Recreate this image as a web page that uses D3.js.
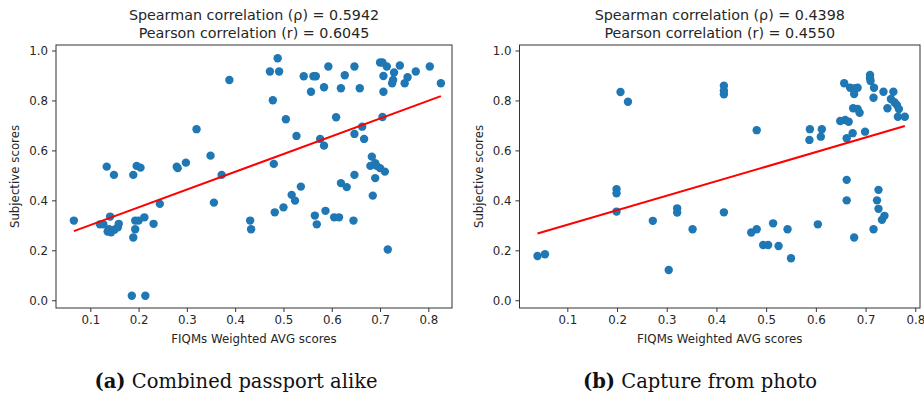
<!DOCTYPE html>
<html>
<head>
<meta charset="utf-8">
<script src="https://cdn.jsdelivr.net/npm/d3@7"></script>
<style>
  html, body { margin: 0; padding: 0; background: #fff; }
  svg { display: block; }
  text { font-family: "DejaVu Sans", sans-serif; fill: #262626; }
</style>
</head>
<body>
<svg id="chart" width="924" height="398"></svg>
<script>
// ---- Data: (a) Combined passport alike ----
const passportX = [0.066,0.120,0.127,0.134,0.149,0.141,0.136,0.143,0.150,0.157,0.139,0.159,0.189,0.196,0.204,0.193,0.200,0.212,0.193,0.189,
  0.231,0.244,0.279,0.281,0.298,0.320,0.349,0.356,0.372,0.388,0.186,0.214,0.431,0.433,0.472,0.491,0.488,0.478,0.480,0.482,
  0.500,0.505,0.517,0.524,0.527,0.536,0.542,0.562,0.567,0.557,0.565,0.569,0.576,0.584,0.584,0.587,0.593,0.605,0.615,0.609,
  0.619,0.619,0.627,0.631,0.645,0.647,0.647,0.647,0.658,0.663,0.667,0.683,0.680,0.690,0.693,0.700,0.710,0.690,0.685,0.716,
  0.700,0.705,0.714,0.707,0.707,0.705,0.729,0.727,0.725,0.741,0.757,0.751,0.774,0.803,0.826];
const passportY = [0.319,0.304,0.304,0.535,0.502,0.335,0.275,0.272,0.282,0.292,0.284,0.306,0.502,0.538,0.531,0.319,0.319,0.332,0.284,0.251,
  0.306,0.386,0.535,0.529,0.551,0.685,0.579,0.391,0.502,0.882,0.018,0.018,0.319,0.284,0.916,0.916,0.969,0.801,0.546,0.352,
  0.372,0.725,0.422,0.399,0.658,0.455,0.897,0.897,0.897,0.835,0.339,0.304,0.646,0.619,0.853,0.358,0.936,0.332,0.332,0.733,
  0.849,0.469,0.901,0.453,0.319,0.502,0.666,0.936,0.849,0.695,0.646,0.575,0.538,0.549,0.538,0.529,0.515,0.489,0.419,0.203,
  0.952,0.952,0.936,0.898,0.835,0.734,0.912,0.882,0.869,0.940,0.893,0.869,0.916,0.936,0.869];

// ---- Data: (b) Capture from photo ----
const photoX = [0.040,0.055,0.199,0.199,0.199,0.207,0.222,0.272,0.304,0.321,0.321,0.352,0.415,0.415,0.415,0.415,0.470,0.481,0.481,0.494,
  0.504,0.514,0.525,0.543,0.550,0.587,0.588,0.604,0.610,0.612,0.649,0.659,0.666,0.657,0.662,0.662,0.662,0.669,0.679,0.684,
  0.677,0.674,0.675,0.684,0.688,0.677,0.699,0.709,0.709,0.710,0.717,0.716,0.716,0.726,0.723,0.726,0.733,0.738,0.736,0.756,
  0.751,0.758,0.763,0.744,0.767,0.765,0.779];
const photoY = [0.177,0.184,0.445,0.428,0.355,0.834,0.795,0.318,0.121,0.368,0.351,0.284,0.859,0.839,0.825,0.352,0.271,0.284,0.681,0.221,
  0.221,0.308,0.217,0.284,0.168,0.642,0.685,0.304,0.655,0.685,0.718,0.722,0.715,0.869,0.649,0.482,0.400,0.851,0.849,0.851,
  0.826,0.669,0.769,0.766,0.751,0.251,0.675,0.902,0.889,0.878,0.851,0.811,0.284,0.442,0.400,0.366,0.322,0.338,0.835,0.835,
  0.806,0.793,0.782,0.769,0.766,0.735,0.735];

// ---- Labels / ticks ----
const xTicks = [0.1,0.2,0.3,0.4,0.5,0.6,0.7,0.8];
const yTicks = [0.0,0.2,0.4,0.6,0.8,1.0];
const titlesA = ["Spearman correlation (\u03C1) = 0.5942", "Pearson correlation (r) = 0.6045"];
const titlesB = ["Spearman correlation (\u03C1) = 0.4398", "Pearson correlation (r) = 0.4550"];
const xLabel = "FIQMs Weighted AVG scores";
const yLabel = "Subjective scores";
const captionTagA = "(a)", captionTextA = " Combined passport alike";
const captionTagB = "(b)", captionTextB = " Capture from photo";

const svg = d3.select("#chart");

function linfit(xs, ys) {
  const mx = d3.mean(xs), my = d3.mean(ys);
  let sxy = 0, sxx = 0;
  xs.forEach((x, i) => { sxy += (x - mx) * (ys[i] - my); sxx += (x - mx) * (x - mx); });
  const b = sxy / sxx;
  return { a: my - b * mx, b };
}

function panel(cfg) {
  const { xs, ys, box, xDomain, yDomain, titles, caption } = cfg;
  const g = svg.append("g");
  const x = d3.scaleLinear().domain(xDomain).range([box.x0, box.x1]);
  const y = d3.scaleLinear().domain(yDomain).range([box.y1, box.y0]);

  // points
  g.append("g").selectAll("circle").data(xs.map((v, i) => [v, ys[i]])).join("circle")
    .attr("cx", d => x(d[0])).attr("cy", d => y(d[1])).attr("r", 4.2)
    .attr("fill", "#1f77b4");

  // regression line
  const f = linfit(xs, ys);
  const ex = d3.extent(xs);
  g.append("line")
    .attr("x1", x(ex[0])).attr("y1", y(f.a + f.b * ex[0]))
    .attr("x2", x(ex[1])).attr("y2", y(f.a + f.b * ex[1]))
    .attr("stroke", "#ff0000").attr("stroke-width", 2);

  // axes
  const xAxis = d3.axisBottom(x).tickValues(xTicks).tickFormat(d3.format(".1f")).tickSize(4).tickPadding(4);
  const yAxis = d3.axisLeft(y).tickValues(yTicks).tickFormat(d3.format(".1f")).tickSize(4).tickPadding(4);
  const gx = g.append("g").attr("transform", `translate(0,${box.y1})`).call(xAxis);
  const gy = g.append("g").attr("transform", `translate(${box.x0},0)`).call(yAxis);
  [gx, gy].forEach(a => {
    a.select(".domain").remove();
    a.selectAll(".tick line").attr("stroke", "#333");
    a.selectAll(".tick text").attr("font-size", 11.8).attr("font-family", "DejaVu Sans").attr("fill", "#262626");
  });

  // spines
  g.append("rect").attr("x", box.x0).attr("y", box.y0)
    .attr("width", box.x1 - box.x0).attr("height", box.y1 - box.y0)
    .attr("fill", "none").attr("stroke", "#333").attr("stroke-width", 1);

  const cx = (box.x0 + box.x1) / 2;
  // titles
  g.append("text").attr("x", cx).attr("y", 20).attr("text-anchor", "middle").attr("font-size", 14.3).text(titles[0]);
  g.append("text").attr("x", cx).attr("y", 37.5).attr("text-anchor", "middle").attr("font-size", 14.3).text(titles[1]);
  // axis labels
  g.append("text").attr("x", cx).attr("y", 343).attr("text-anchor", "middle").attr("font-size", 11.8).text(xLabel);
  g.append("text").attr("transform", `translate(${box.x0 - 37},${(box.y0 + box.y1) / 2}) rotate(-90)`)
    .attr("text-anchor", "middle").attr("font-size", 11.8).text(yLabel);

  // caption
  const t = g.append("text").attr("x", caption.cx).attr("y", 388).attr("text-anchor", "middle")
    .style("font-family", "'DejaVu Serif', serif").attr("font-size", 19.5).style("fill", "#111");
  t.append("tspan").attr("font-weight", "bold").text(caption.tag);
  t.append("tspan").text(caption.text);
}

panel({
  xs: passportX, ys: passportY,
  box: { x0: 56, x1: 452, y0: 45, y1: 308 },
  xDomain: [0.029, 0.849], yDomain: [-0.031, 1.022],
  titles: titlesA, caption: { cx: 236, tag: captionTagA, text: captionTextA }
});
panel({
  xs: photoX, ys: photoY,
  box: { x0: 519.5, x1: 920, y0: 45, y1: 308 },
  xDomain: [0.0038, 0.8095], yDomain: [-0.031, 1.022],
  titles: titlesB, caption: { cx: 700, tag: captionTagB, text: captionTextB }
});
</script>
</body>
</html>
